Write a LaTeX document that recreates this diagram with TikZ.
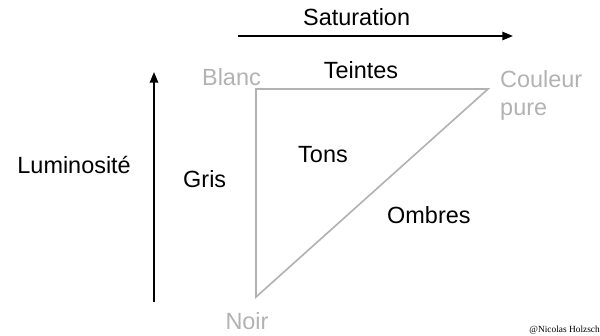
\documentclass[tikz,border=0pt]{standalone}
\usepackage{fontspec}
\setmainfont{Liberation Sans}
\newfontfamily\signfont{Liberation Serif}
\usepackage{tikz}
\usetikzlibrary{arrows.meta}

\begin{document}
\begin{tikzpicture}[
    >={Triangle[length=9pt,width=7pt]},
    x=0.03cm, y=-0.03cm,
    label/.style={inner sep=0pt, font=\fontsize{20}{22}\selectfont},
    corner/.style={label, text=black!30}
]

\useasboundingbox (0,0) rectangle (600,335);

% ---------------- AXES ----------------

\coordinate (satA) at (238,36);
\coordinate (satB) at (513,36);
\coordinate (lumA) at (154,302);
\coordinate (lumB) at (154,72);

\draw[
    ->,
    line width=1.6pt
] (satA) -- (satB);

\draw[
    ->,
    line width=1.6pt
] (lumA) -- (lumB);

\node[label, anchor=base west] (saturation) at (303,25) {Saturation};
\node[label, anchor=base east] (luminosite) at (131,173) {Luminosité};


% ---------------- TRIANGLE ----------------

\coordinate (blanc) at (256,89);
\coordinate (couleur) at (488,89);
\coordinate (noir) at (256,297);

\draw[
    line width=1.4pt,
    black!30,
    line join=miter
] (blanc) -- (couleur) -- (noir) -- cycle;


% ---------------- SOMMETS ----------------

\node[corner, anchor=base east] (lblanc) at (261,85) {Blanc};
\node[corner, anchor=base west] (lcouleur) at (500,87) {Couleur};
\node[corner, anchor=base west] (lpure) at (500,115) {pure};
\node[corner, anchor=base] (lnoir) at (247,329) {Noir};


% ---------------- ZONES ----------------

\node[label, anchor=base] (teintes) at (361,78) {Teintes};
\node[label, anchor=base west] (gris) at (183,187) {Gris};
\node[label, anchor=base west] (tons) at (298,162) {Tons};
\node[label, anchor=base west] (ombres) at (387,223) {Ombres};


% signature
\node[inner sep=0pt, anchor=base east, font=\signfont\fontsize{8}{9}\selectfont]
    (signature) at (600,332) {@Nicolas Holzsch};

\end{tikzpicture}
\end{document}
